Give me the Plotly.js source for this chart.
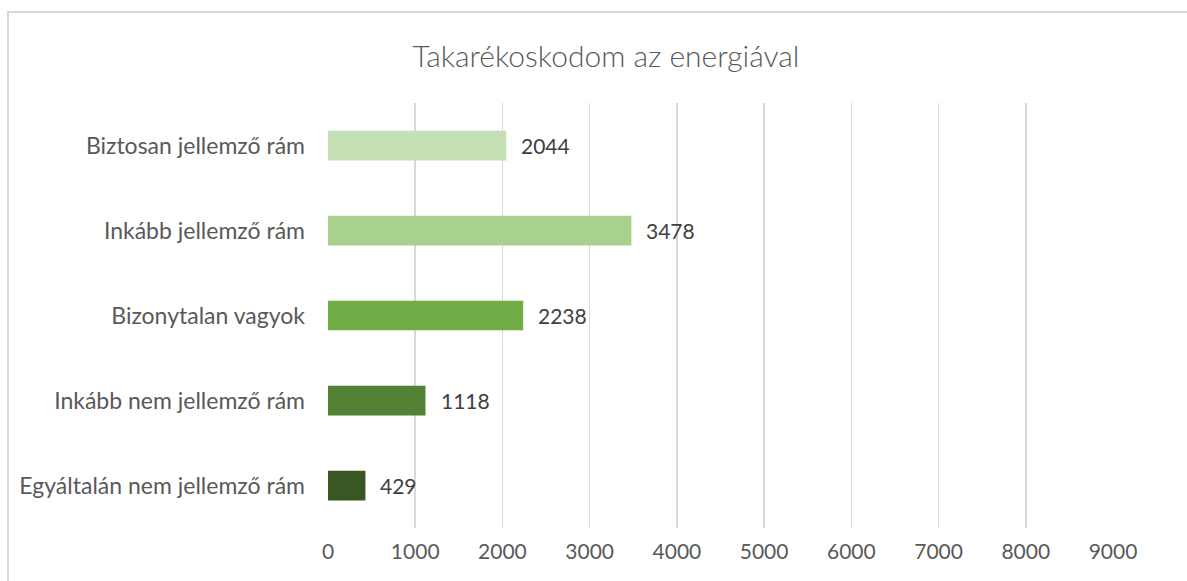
<!DOCTYPE html>
<html>
<head>
<meta charset="utf-8">
<script src="https://cdn.plot.ly/plotly-3.0.1.min.js"></script>
<style>
  html, body { margin: 0; padding: 0; background: #ffffff; }
  #wrap { position: relative; width: 1187px; height: 581px; overflow: hidden; }
  #chart { position: absolute; left: 0; top: 0; width: 1187px; height: 581px; }
  #frame { position: absolute; left: 7px; top: 11px; width: 1196px; height: 600px;
           border: 2px solid #d9d9d9; pointer-events: none; box-sizing: border-box; }
</style>
</head>
<body>
<div id="wrap">
  <div id="chart"></div>
  <div id="frame"></div>
</div>
<script>
// Categories listed top to bottom as in the picture
const categories = [
  "Biztosan jellemző rám",
  "Inkább jellemző rám",
  "Bizonytalan vagyok",
  "Inkább nem jellemző rám",
  "Egyáltalán nem jellemző rám"
];
const values = [2044, 3478, 2238, 1118, 429];
const barColors = ["#c5e0b4", "#a9d18e", "#70ad47", "#548235", "#385723"];
const xTicks = [0, 1000, 2000, 3000, 4000, 5000, 6000, 7000, 8000, 9000];
const chartTitle = "Takarékoskodom az energiával";

const FONT = "Lato, 'Open Sans', sans-serif";

const trace = {
  type: "bar",
  orientation: "h",
  x: values,
  y: categories,
  marker: { color: barColors, line: { width: 0 } },
  hoverinfo: "skip"
};

const annotations = values.map((v, i) => ({
  x: v, y: categories[i], xref: "x", yref: "y",
  text: String(v), showarrow: false, xanchor: "left", yanchor: "middle",
  xshift: 13, font: { family: FONT, size: 21, color: "#404040" }
}));

const layout = {
  width: 1187, height: 581,
  margin: { l: 328, r: 74, t: 103, b: 53, pad: 0 },
  paper_bgcolor: "#ffffff",
  plot_bgcolor: "#ffffff",
  showlegend: false,
  bargap: 0.65,
  title: {
    text: chartTitle,
    x: 0.5105, xref: "container", xanchor: "center",
    y: 0.902, yref: "container", yanchor: "middle",
    font: { family: FONT, size: 30, color: "#595959", weight: 300 }
  },
  xaxis: {
    range: [0, 9000],
    tickvals: xTicks,
    ticktext: xTicks.map(String),
    showgrid: true, gridcolor: "#d9d9d9", gridwidth: 1.6,
    zeroline: false, showline: false,
    ticks: "", ticklabelstandoff: 9,
    tickfont: { family: FONT, size: 21, color: "#595959" },
    fixedrange: true
  },
  yaxis: {
    autorange: "reversed",
    showgrid: false, zeroline: false, showline: false,
    ticks: "", ticklabelstandoff: 22,
    tickfont: { family: FONT, size: 23, color: "#595959" },
    fixedrange: true
  },
  annotations: annotations
};

Plotly.newPlot("chart", [trace], layout, { displayModeBar: false, staticPlot: true });
</script>
</body>
</html>
